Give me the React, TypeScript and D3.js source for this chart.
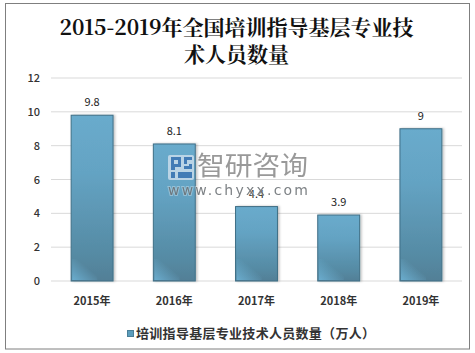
import React from "react";
import * as d3 from "d3";

const categories = ["2015年", "2016年", "2017年", "2018年", "2019年"];
const values = [9.8, 8.1, 4.4, 3.9, 9];
const yTicks = [0, 2, 4, 6, 8, 10, 12];
const titleLines = ["2015-2019年全国培训指导基层专业技", "术人员数量"];
const legendLabel = "培训指导基层专业技术人员数量（万人）";

const W = 475, H = 353;
const sans = "'Noto Sans CJK SC', 'Open Sans', sans-serif";
const y = d3.scaleLinear().domain([0, 12]).range([281, 78]);
const x = d3.scaleBand<string>().domain(categories).range([51, 462]).paddingInner(0.49).paddingOuter(0.245);

export default function App() {
  return (
    <svg width={W} height={H} style={{ position: "fixed", left: 0, top: 0, background: "#fff" }}>
      <defs>
        <linearGradient id="bar" x1="0.5" y1="0" x2="0.5" y2="1">
          <stop offset="0" stopColor="#69abcc" />
          <stop offset="0.35" stopColor="#64a3c3" />
          <stop offset="0.85" stopColor="#558aa3" />
          <stop offset="1" stopColor="#527f96" />
        </linearGradient>
        <linearGradient id="corner" x1="0" y1="1" x2="0.6" y2="0.4">
          <stop offset="0" stopColor="#6cb0d2" stopOpacity={0.95} />
          <stop offset="1" stopColor="#6cb0d2" stopOpacity={0} />
        </linearGradient>
        <filter id="sh" x="-20%" y="-5%" width="140%" height="110%">
          <feDropShadow dx="1.5" dy="0" stdDeviation="1" floodColor="#000" floodOpacity="0.25" />
        </filter>
      </defs>
      <rect x={5.5} y={3.5} width={464} height={345.5} fill="#fff" stroke="#7f7f7f" strokeWidth={1} />
      {titleLines.map((t, i) => (
        <text key={t} x={236.5} y={35 + i * 27} textAnchor="middle" fontFamily="'Noto Serif CJK SC', 'Noto Sans CJK SC', serif" fontSize={21} fontWeight={700} fill="#111">{t}</text>
      ))}
      {yTicks.map(t => (
        <g key={t}>
          <line x1={51} x2={462} y1={y(t)} y2={y(t)} stroke="#d9d9d9" strokeWidth={1} />
          <text x={40} y={y(t) + 4} textAnchor="end" fontFamily={sans} fontSize={11} fontWeight={500} fill="#333">{t}</text>
        </g>
      ))}
      {categories.map((c, i) => {
        const bx = x(c)!, by = y(values[i]), bw = x.bandwidth(), bh = y(0) - by;
        return (
          <g key={c}>
            <rect x={bx} y={by} width={bw} height={bh} fill="url(#bar)" stroke="#3f6f86" strokeWidth={1} filter="url(#sh)" />
            <rect x={bx + 1} y={y(0) - 22} width={bw * 0.6} height={21} fill="url(#corner)" />
            <text x={bx + bw / 2} y={by - 9} textAnchor="middle" fontFamily={sans} fontSize={11} fill="#222">{values[i]}</text>
            <text x={bx + bw / 2} y={304.5} textAnchor="middle" fontFamily={sans} fontSize={11} fontWeight={700} fill="#333">{c}</text>
          </g>
        );
      })}
      <rect x={127.5} y={330.5} width={6} height={6} fill="#5b9dbc" stroke="#4a7f98" />
      <text x={136} y={338} fontFamily={sans} fontSize={13} fontWeight={700} fill="#333" textLength={239}>{legendLabel}</text>
      <g opacity={0.9}>
        <rect x={168} y={155} width={26} height={25} rx={2} fill="#d3e2ee" opacity={0.85} />
        <path d="M171 157h10v10h-6v3h-4z M174 160v4h4v-4z M184 157h8v3h-5v4h5v5h-8v-3h5v-2h-5z M171 172h4v6h-4z M178 172h14v6h-14z" fill="#3f78b5" fillRule="evenodd" />
        <text x={197} y={175} fontFamily={sans} fontSize={26} fill="#8f8f8f" textLength={111} lengthAdjust="spacingAndGlyphs">智研咨询</text>
        <text x={168} y={195} fontFamily="'DejaVu Sans', sans-serif" fontSize={14} fill="#6f7478" textLength={140} stroke="#ffffff" strokeOpacity={0.35} strokeWidth={2} paintOrder="stroke">www.chyxx.com</text>
      </g>
    </svg>
  );
}
